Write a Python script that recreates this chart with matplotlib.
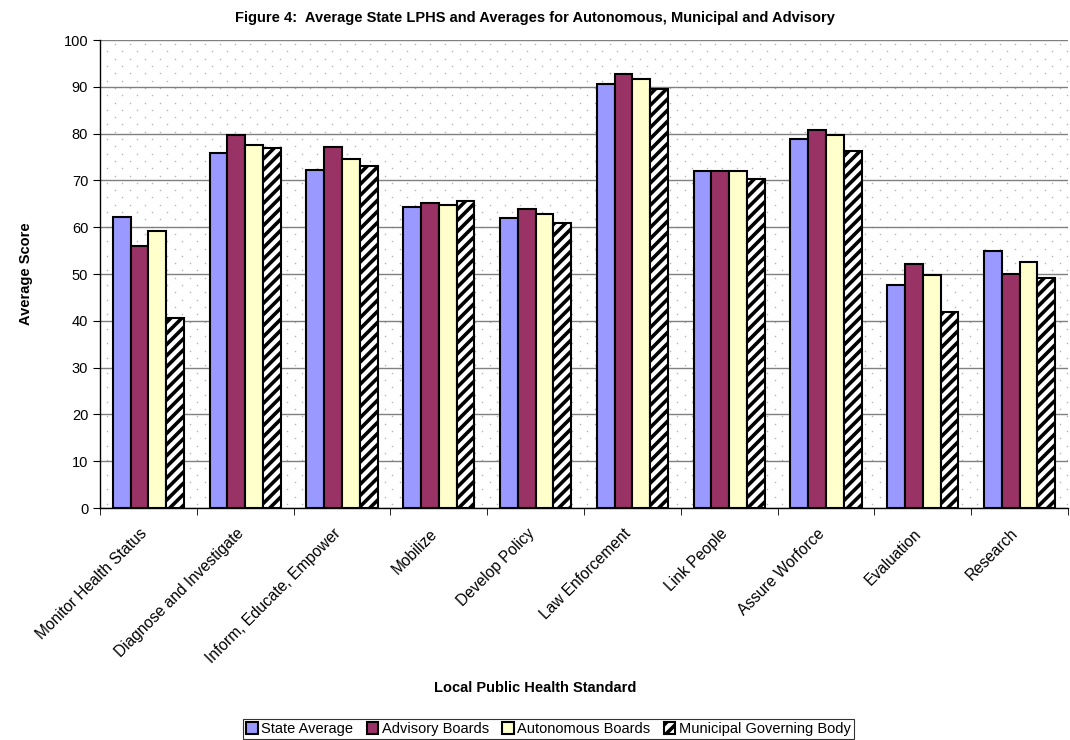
"""Figure 4: promedio estatal LPHS frente a tipos de junta (barras agrupadas)."""
import matplotlib.pyplot as plt
import matplotlib.transforms as mtransforms
import numpy as np

plt.rcParams["font.family"] = ["Liberation Sans", "DejaVu Sans"]
plt.rcParams["hatch.linewidth"] = 2.6

STANDARDS = [
    "Monitor Health Status", "Diagnose and Investigate", "Inform, Educate, Empower",
    "Mobilize", "Develop Policy", "Law Enforcement", "Link People",
    "Assure Worforce", "Evaluation", "Research",
]
STATE_AVG = [62.2, 75.8, 72.2, 64.4, 61.9, 90.7, 72.1, 78.9, 47.6, 55.0]
ADVISORY = [56.0, 79.7, 77.1, 65.2, 63.8, 92.7, 72.1, 80.8, 52.1, 50.1]
AUTONOMOUS = [59.2, 77.6, 74.6, 64.8, 62.9, 91.6, 72.1, 79.7, 49.8, 52.6]
MUNICIPAL = [40.7, 77.0, 73.1, 65.5, 61.0, 89.5, 70.4, 76.3, 41.9, 49.1]

SERIES = [
    ("State Average", STATE_AVG, "#9999ff", None),
    ("Advisory Boards", ADVISORY, "#993366", None),
    ("Autonomous Boards", AUTONOMOUS, "#ffffcc", None),
    ("Municipal Governing Body", MUNICIPAL, "white", "///"),
]

W, H = 1070, 740
fig = plt.figure(figsize=(W / 100, H / 100), dpi=100)
ax = fig.add_axes([0.0935, 0.3135, 0.9047, 0.6324])

# fondo punteado estilo Excel (decorativo, en coordenadas del eje)
ax_w, ax_h = 0.9047 * W, 0.6324 * H
cols = np.arange(7.0, ax_w, 15.0)
rows = np.arange(4.0, ax_h, 7.3)
dx, dy = [], []
for k, r in enumerate(rows):
    off = 7.5 if k % 2 else 0.0
    c = cols + off
    c = c[c < ax_w]
    dx.extend(c / ax_w)
    dy.extend([r / ax_h] * len(c))
ax.plot(dx, dy, linestyle="none", marker="s", markersize=1.0,
        color="#b4b4b4", markeredgewidth=0, transform=ax.transAxes, zorder=0)

x = np.arange(len(STANDARDS))
width = 0.184
for i, (label, vals, color, hatch) in enumerate(SERIES):
    ax.bar(
        x + (i - 1.5) * width, vals, width=width,
        color=color, edgecolor="black", linewidth=1.5,
        hatch=hatch, label=label, zorder=3,
    )

ax.set_xlim(-0.5, len(STANDARDS) - 0.5)
ax.set_ylim(0, 100)
ax.set_yticks(range(0, 101, 10))
ax.grid(axis="y", color="#808080", linewidth=1.0, zorder=1)
ax.set_axisbelow(True)
for side in ("top", "right"):
    ax.spines[side].set_visible(False)
for side in ("left", "bottom"):
    ax.spines[side].set_linewidth(1.0)

ax.set_xticks(x)
ax.set_xticklabels(STANDARDS, rotation=45, ha="right", rotation_mode="anchor",
                   fontsize=11.2)
ax.tick_params(axis="x", length=0, pad=13)
shift = mtransforms.ScaledTranslation(-9 / 100, 0, fig.dpi_scale_trans)
for lbl in ax.get_xticklabels():
    lbl.set_transform(lbl.get_transform() + shift)
ax.set_xticks(np.arange(-0.5, len(STANDARDS)), minor=True)
ax.tick_params(axis="x", which="minor", length=5)
ax.tick_params(axis="y", labelsize=10.5, length=5)

ax.set_ylabel("Average Score", fontsize=10.5, fontweight="bold", labelpad=22)
fig.text(0.5, 1 - 688 / H, "Local Public Health Standard", ha="center",
         va="center", fontsize=10.5, fontweight="bold")
fig.text(0.5, 0.976,
         "Figure 4:  Average State LPHS and Averages for Autonomous, Municipal and Advisory",
         ha="center", va="center", fontsize=10.5, fontweight="bold")

leg = fig.legend(loc="center", bbox_to_anchor=(0.5126, 1 - 729 / H), ncol=4,
                 frameon=True, fancybox=False, edgecolor="black",
                 fontsize=10.5, handlelength=0.8, handleheight=0.8,
                 handletextpad=0.25, columnspacing=0.9, borderpad=0.2)
leg.get_frame().set_linewidth(0.8)

fig.savefig("out.png", dpi=100)
